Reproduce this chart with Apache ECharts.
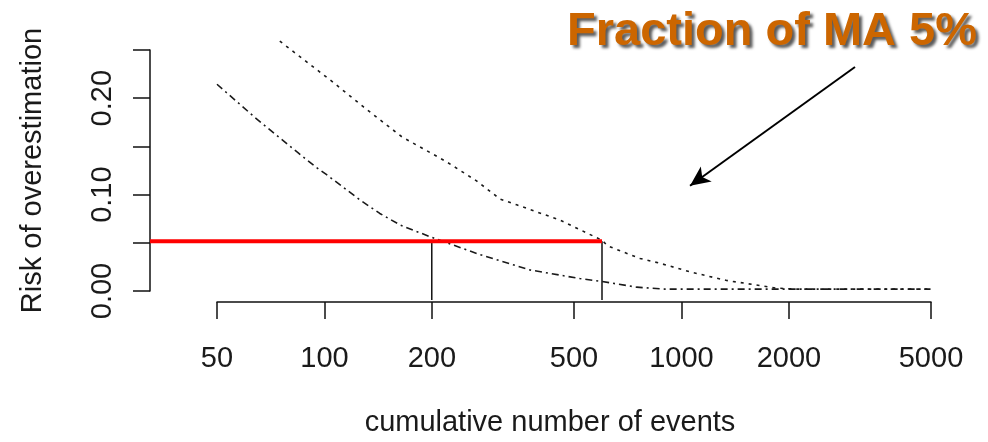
<!DOCTYPE html>
<html>
<head>
<meta charset="utf-8">
<script src="https://cdn.jsdelivr.net/npm/echarts@6/dist/echarts.min.js"></script>
<style>
html,body{margin:0;padding:0;background:#fff;}
#chart{width:988px;height:442px;}
</style>
</head>
<body>
<div id="chart"></div>
<script>
// ---- data ----
var lowerX = [50, 64, 84, 95, 101, 126, 143, 163, 200, 273, 377, 520, 600, 750, 900, 5000];
var lowerY = [0.214, 0.179, 0.143, 0.127, 0.120, 0.093, 0.079, 0.067, 0.054, 0.036, 0.020, 0.011, 0.008, 0.002, 0.000, 0.000];
var upperX = [75, 105, 129, 165, 220, 267, 311, 346, 458, 600, 623, 767, 872, 1059, 1341, 1853, 2100, 5000];
var upperY = [0.259, 0.217, 0.190, 0.159, 0.133, 0.113, 0.094, 0.088, 0.072, 0.051, 0.045, 0.032, 0.027, 0.018, 0.009, 0.001, 0.000, 0.000];
var xTicks = [50, 100, 200, 500, 1000, 2000, 5000];
var yTicks = [0, 0.05, 0.10, 0.15, 0.20, 0.25];
var yLabels = [0, 0.10, 0.20];
var riskLevel = 0.05;
var cutoffs = [200, 600];
var plotXMin = 32.45, plotXMax = 5670;
var plotYMin = -0.0114, plotYMax = 0.2811;
var arrowFrom = [3071, 0.232], arrowTo = [1059, 0.108];
var titleText = 'Fraction of MA 5%';

function zip(xs, ys){ return xs.map(function(x,i){ return [x, ys[i]]; }); }

var FONT = "'Liberation Sans', Arial, sans-serif";
var INK = '#1a1a1a';

var chart = echarts.init(document.getElementById('chart'), null, {renderer:'canvas'});

var series = [
  {
    type:'line', xAxisIndex:0, yAxisIndex:0, data: zip(lowerX, lowerY),
    showSymbol:false, symbol:'none', silent:true, smooth:false,
    lineStyle:{color:'#1a1a1a', width:1.6, type:[7,4,2,4]}
  },
  {
    type:'line', xAxisIndex:0, yAxisIndex:0, data: zip(upperX, upperY),
    showSymbol:false, symbol:'none', silent:true,
    lineStyle:{color:'#1a1a1a', width:1.6, type:[3,5]},
    markLine:{
      silent:true, animation:false,
      symbol:['none','arrow'], symbolSize:[14,20],
      lineStyle:{color:'#000', width:2, type:'solid'},
      label:{show:false},
      data:[[{coord:arrowFrom},{coord:arrowTo}]]
    }
  },
  {
    type:'line', xAxisIndex:0, yAxisIndex:0,
    data: [[plotXMin, riskLevel], [cutoffs[1], riskLevel]],
    showSymbol:false, symbol:'none', silent:true,
    lineStyle:{color:'#ff0000', width:4}
  }
];
cutoffs.forEach(function(c){
  series.push({
    type:'line', xAxisIndex:0, yAxisIndex:0,
    data: [[c, riskLevel], [c, plotYMin]],
    showSymbol:false, symbol:'none', silent:true, z:1,
    lineStyle:{color:'#111', width:1.5}
  });
});

var option = {
  animation:false,
  backgroundColor:'#fff',
  textStyle:{fontFamily:FONT},
  grid:[
    {left:150, right:38, top:20, bottom:140},
    {left:217, right:57, top:50, bottom:140},
    {left:150, width:10, top:50, bottom:151}
  ],
  xAxis:[
    {
      gridIndex:0, type:'log', min:plotXMin, max:plotXMax, logBase:10,
      axisLine:{show:false}, axisTick:{show:false}, axisLabel:{show:false}, splitLine:{show:false},
      name:'cumulative number of events', nameLocation:'middle', nameGap:108,
      nameTextStyle:{fontSize:29, color:INK, fontFamily:FONT}
    },
    {
      gridIndex:1, type:'log', min:50, max:5000, logBase:10, position:'bottom',
      axisLine:{show:true, lineStyle:{color:'#111', width:1.5}},
      axisTick:{show:true, length:17, customValues:xTicks, lineStyle:{color:'#111', width:1.5}},
      axisLabel:{show:true, customValues:xTicks, margin:42, fontSize:29, color:INK, fontFamily:FONT,
        formatter:function(v){ return String(Math.round(v)); }},
      splitLine:{show:false}, minorTick:{show:false}
    },
    {
      gridIndex:2, type:'value', show:false
    }
  ],
  yAxis:[
    {
      gridIndex:0, type:'value', min:plotYMin, max:plotYMax, show:false
    },
    {
      gridIndex:1, type:'value', show:false
    },
    {
      gridIndex:2, type:'value', min:0, max:0.25, interval:0.05, position:'left',
      axisLine:{show:true, lineStyle:{color:'#111', width:1.5}},
      axisTick:{show:true, length:17, customValues:yTicks, lineStyle:{color:'#111', width:1.5}},
      axisLabel:{show:true, customValues:yLabels, rotate:90, margin:33, fontSize:29, color:INK, fontFamily:FONT,
        formatter:function(v){ return v.toFixed(2); }},
      splitLine:{show:false},
      name:'Risk of overestimation', nameLocation:'middle', nameRotate:90, nameGap:103,
      nameTextStyle:{fontSize:29, color:INK, fontFamily:FONT}
    }
  ],
  graphic:[
    {
      type:'text', left:567, top:9, silent:true,
      style:{
        text:titleText, fill:'#CC6600',
        font:"bold 47px 'Liberation Sans', Arial, sans-serif",
        textShadowColor:'rgba(0,0,0,0.65)', textShadowBlur:3,
        textShadowOffsetX:3, textShadowOffsetY:3
      }
    }
  ],
  series:series
};
chart.setOption(option);
</script>
</body>
</html>
